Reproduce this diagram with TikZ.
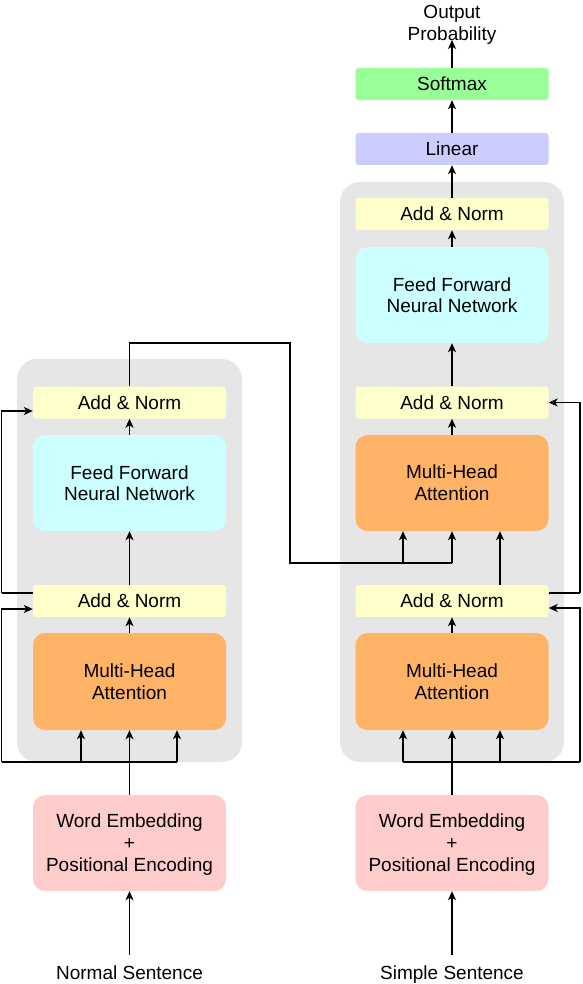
\documentclass[tikz,border=0pt]{standalone}
\usepackage{fontspec}
\setmainfont{Liberation Sans}
\usetikzlibrary{arrows.meta}
\definecolor{anfill}{HTML}{FFFFCC}
\definecolor{fffill}{HTML}{CCFFFF}
\definecolor{mhafill}{HTML}{FFB366}
\definecolor{embfill}{HTML}{FFCCCC}
\definecolor{smfill}{HTML}{99FF99}
\definecolor{linfill}{HTML}{CCCCFF}
\definecolor{grayfill}{HTML}{E6E6E6}
\begin{document}
\begin{tikzpicture}[x=1pt,y=-1pt,
  every node/.style={font=\fontsize{19}{22}\selectfont, text=black},
  box/.style={draw=none, align=center, inner sep=0pt, minimum width=193pt},
  thin box/.style={box, rounded corners=3pt, minimum height=32pt},
  big box/.style={box, rounded corners=12pt, minimum height=96pt},
  addnorm/.style={thin box, fill=anfill},
  ffbox/.style={big box, fill=fffill},
  mhabox/.style={big box, fill=mhafill},
  embbox/.style={big box, fill=embfill},
  graybox/.style={draw=none, fill=grayfill, rounded corners=20pt, inner sep=0pt},
  arr/.style={-{Stealth[length=9pt,width=8pt,inset=2.5pt]}, line width=1.3pt},
  ln/.style={line width=1.3pt},
  lbl/.style={align=center, inner sep=2pt}
]
\useasboundingbox (0,0) rectangle (582,984);
% background containers
\node[graybox, minimum width=225pt, minimum height=403pt] (encbg) at (129.5,560.5) {};
\node[graybox, minimum width=224pt, minimum height=580pt] (decbg) at (452,472) {};

% encoder
\node[addnorm] (encAN2) at (129.5,402.5) {Add \& Norm};
\node[ffbox] (encFF) at (129.5,483) {\raisebox{-1pt}{Feed Forward}\\Neural Network};
\node[addnorm] (encAN1) at (129.5,601) {Add \& Norm};
\node[mhabox, minimum height=97pt] (encMHA) at (129.5,681.5) {Multi-Head\\Attention};
\node[embbox, text depth=0pt] (encEmb) at (129.5,843) {Word Embedding\\+\\Positional Encoding};
\node[lbl, anchor=base] (encIn) at (129.5,979) {Normal Sentence};

% decoder
\node[lbl, text depth=0pt] (out) at (452,23) {Output\\Probability};
\node[thin box, fill=smfill] (softmax) at (452,84) {Softmax};
\node[thin box, fill=linfill] (linear) at (452,149) {Linear};
\node[addnorm] (decAN3) at (452,214) {Add \& Norm};
\node[ffbox] (decFF) at (452,295) {\raisebox{-1pt}{Feed Forward}\\Neural Network};
\node[addnorm] (decAN2) at (452,402.5) {Add \& Norm};
\node[mhabox] (decMHA2) at (452,483) {Multi-Head\\Attention};
\node[addnorm] (decAN1) at (452,601) {Add \& Norm};
\node[mhabox, minimum height=97pt] (decMHA1) at (452,681.5) {Multi-Head\\Attention};
\node[embbox, text depth=0pt] (decEmb) at (452,843) {Word Embedding\\+\\Positional Encoding};
\node[lbl, anchor=base] (decIn) at (452,979) {Simple Sentence};

% coordinates
\coordinate (eL) at (1.5,762);
\coordinate (eQ) at (81,762);
\coordinate (eR) at (177,762);
\coordinate (eL2) at (1.5,593);
\coordinate (xTop) at (290,343);
\coordinate (xMid) at (403,563);
\coordinate (xBot) at (452,563);
\coordinate (dL) at (403,762);
\coordinate (dQ) at (500,762);
\coordinate (dR) at (580,762);
\coordinate (dR2) at (580,593);
\coordinate (outTip) at (452,40);
\coordinate (inTipL) at (129.5,955);
\coordinate (inTipR) at (452,955);

% encoder connectors
\draw[arr] (inTipL) -- (encEmb);
\draw[arr] (encEmb) -- (encMHA);
\draw[ln] (eL) -- (eR);
\draw[arr] (eQ) -- (eQ |- encMHA.south);
\draw[arr] (eR) -- (eR |- encMHA.south);
\draw[arr] (eL) |- ([yshift=-8pt]encAN1.west);
\draw[arr] (encMHA) -- (encAN1);
\draw[arr] (encAN1) -- (encFF);
\draw[ln] ([yshift=8pt]encAN1.west) -- (eL2);
\draw[arr] (eL2) |- ([yshift=-8.5pt]encAN2.west);
\draw[arr] (encFF) -- (encAN2);

% cross connection
\draw[ln] (encAN2.north) |- (xTop) |- (xBot);
\draw[arr] (xMid) -- (xMid |- decMHA2.south);
\draw[arr] (xBot) -- (decMHA2.south);

% decoder connectors
\draw[arr] (inTipR) -- (decEmb);
\draw[arr] (decEmb) -- (decMHA1);
\draw[ln] (dL) -- (dR);
\draw[arr] (dL) -- (dL |- decMHA1.south);
\draw[arr] (dQ) -- (dQ |- decMHA1.south);
\draw[arr] (dR) |- ([yshift=-7pt]decAN1.east);
\draw[arr] (decMHA1) -- (decAN1);
\draw[ln] ([yshift=8pt]decAN1.east) -- (dR2);
\draw[arr] (dR2) |- (decAN2.east);
\draw[arr] ([xshift=48pt]decAN1.north) -- ([xshift=48pt]decMHA2.south);
\draw[arr] (decMHA2) -- (decAN2);
\draw[arr] (decAN2) -- (decFF);
\draw[arr] (decFF) -- (decAN3);
\draw[arr] (decAN3) -- (linear);
\draw[arr] (linear) -- (softmax);
\draw[arr] (softmax) -- (outTip);
\end{tikzpicture}
\end{document}
